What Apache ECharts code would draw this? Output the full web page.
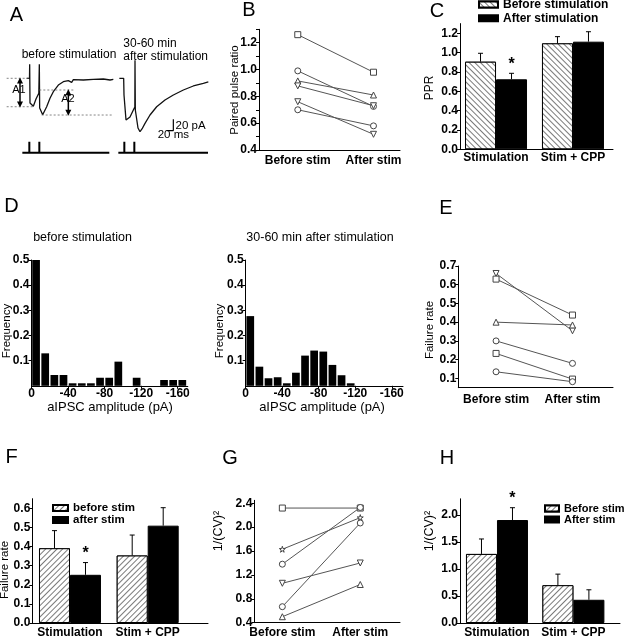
<!DOCTYPE html>
<html><head><meta charset="utf-8">
<script src="https://cdn.jsdelivr.net/npm/echarts@6/dist/echarts.min.js"></script>
<style>html,body{margin:0;padding:0;background:#fff}#c{width:624px;height:639px}</style>
</head><body><div id="c"></div>
<script>
// ---------- DATA ----------
// Panel A: example traces (time ms, current pA)
const traceBeforeT = [80, 88.5, 89, 90, 100, 108, 116.4, 118, 119, 128, 140, 150, 160, 175, 190, 205, 215, 220, 250, 280, 310, 330, 340];
const traceBeforeI = [0, 0, 25, -43.7, -49.6, -36.6, -26.6, 25, -52.6, -64.4, -50.3, -35.4, -23.7, -11.9, -6, -4.2, -7.1, -2.5, -3, -1.8, -1.2, -3, -1.8];
const traceAfterT = [358, 371, 372, 378, 383, 390, 400, 404.5, 405, 406, 414, 420, 426, 435, 450, 470, 495, 520, 550, 580, 610, 625];
const traceAfterI = [0, 0, -29.6, -73.8, -76.8, -68.5, -56.1, -50.8, 32, -56.1, -88, -94.5, -89.7, -79.7, -65, -50.3, -38.4, -29.6, -20.7, -13.6, -8.9, -6.5];
const stimBefore = [88, 118];
const stimAfter = [373, 403];

// Panel B: paired pulse ratio per cell
const categoriesStim = ['Before stim', 'After stim'];
const ppBefore = [1.26, 0.99, 0.915, 0.878, 0.76, 0.70];
const ppAfter  = [0.98, 0.725, 0.81, 0.73, 0.517, 0.58];
const ppSymbols = ['rect', 'circle', 'triangle', 'down', 'down', 'circle'];

// Panel C: PPR means
const groupCats = ['Stimulation', 'Stim + CPP'];
const pprBefore = [0.906, 1.096];
const pprBeforeSem = [0.087, 0.069];
const pprAfter = [0.724, 1.113];
const pprAfterSem = [0.062, 0.103];
const pprSig = [true, false];

// Panel D: amplitude histograms (10 pA bins)
const binCenters = [-5, -15, -25, -35, -45, -55, -65, -75, -85, -95, -105, -115, -125, -135, -145, -155, -165];
const histBefore = [0.5, 0.129, 0.043, 0.043, 0.01, 0.01, 0.01, 0.032, 0.032, 0.096, 0, 0.032, 0, 0, 0.023, 0.023, 0.023];
const histAfter  = [0.277, 0.076, 0.03, 0.034, 0.01, 0.052, 0.12, 0.14, 0.136, 0.083, 0.042, 0.01, 0, 0, 0, 0, 0];

// Panel E: failure rate per cell
const frBefore = [0.66, 0.63, 0.40, 0.30, 0.233, 0.135];
const frAfter  = [0.354, 0.438, 0.385, 0.18, 0.096, 0.082];
const frSymbols = ['down', 'rect', 'triangle', 'circle', 'rect', 'circle'];

// Panel F: failure rate means
const frmBefore = [0.391, 0.353];
const frmBeforeSem = [0.092, 0.107];
const frmAfter = [0.252, 0.509];
const frmAfterSem = [0.064, 0.094];
const frmSig = [true, false];

// Panel G: 1/CV^2 per cell
const cvBefore = [2.32, 1.63, 1.38, 1.06, 0.668, 0.50];
const cvAfter  = [2.32, 2.16, 2.33, 1.40, 2.07, 1.04];
const cvSymbols = ['rect', 'star', 'circle', 'down', 'circle', 'triangle'];

// Panel H: 1/CV^2 means
const cvmBefore = [1.279, 0.70];
const cvmBeforeSem = [0.277, 0.205];
const cvmAfter = [1.907, 0.43];
const cvmAfterSem = [0.228, 0.185];
const cvmSig = [true, false];

// ---------- BUILD ----------
const FAM = '"Liberation Sans", Arial, sans-serif';
const symMap = {
  rect: 'rect', circle: 'circle', triangle: 'triangle',
  down: 'path://M0,0 L10,0 L5,9 Z',
  star: 'path://M50,0 L61,35 L98,35 L68,57 L79,91 L50,70 L21,91 L32,57 L2,35 L39,35 Z'
};
const BW = 31;

const grids = [
  {left: 0, top: 40, width: 210, height: 120},          // A
  {left: 259, top: 29.3, width: 141, height: 120.7},    // B
  {left: 460, top: 23.6, width: 153, height: 125.7},    // C
  {left: 31.5, top: 260, width: 156.3, height: 125.8},  // D left
  {left: 245.7, top: 260, width: 157.3, height: 125.8}, // D right
  {left: 458.3, top: 266, width: 154.7, height: 121.7}, // E
  {left: 32.3, top: 498.7, width: 175.7, height: 124.6},// F
  {left: 254.3, top: 500.3, width: 145.7, height: 122.4},// G
  {left: 460, top: 498.8, width: 160, height: 124.5}   // H
];

const lblStyle = {color: '#000', fontSize: 12, fontWeight: 'bold', fontFamily: FAM};
function yAx(g, min, max, ticks, labels, dec) {
  return {type: 'value', gridIndex: g, min, max,
    axisLine: {show: true, onZero: false, lineStyle: {color: '#000', width: 1}},
    axisTick: {show: true, length: 3, customValues: ticks, lineStyle: {color: '#000'}},
    axisLabel: Object.assign({customValues: labels, margin: 2, formatter: v => v.toFixed(dec)}, lblStyle),
    splitLine: {show: false}};
}
function xCat(g, min, max, cats, margin) {
  return {type: 'value', gridIndex: g, min, max,
    axisLine: {show: true, onZero: false, lineStyle: {color: '#000', width: 1}},
    axisTick: {show: false},
    axisLabel: Object.assign({customValues: [1, 2], margin, formatter: v => cats[Math.round(v) - 1]}, lblStyle),
    splitLine: {show: false}};
}
function xHist(g, min) {
  return {type: 'value', gridIndex: g, min, max: 0, inverse: true,
    axisLine: {show: true, onZero: false, lineStyle: {color: '#000', width: 1}},
    axisTick: {show: true, length: 3, customValues: [0, -40, -80, -120, -160], lineStyle: {color: '#000'}},
    axisLabel: Object.assign({customValues: [0, -40, -80, -120, -160], margin: 2, formatter: v => String(v)}, lblStyle),
    splitLine: {show: false}};
}
const hidden = (g, min, max) => ({type: 'value', gridIndex: g, min, max, show: false});

const xAxis = [
  hidden(0, 0, 630),
  xCat(1, 0.488, 2.35, categoriesStim, 5),
  xCat(2, 0.532, 2.52, groupCats, 2),
  xHist(3, -171),
  xHist(4, -172.3),
  xCat(5, 0.506, 2.53, categoriesStim, 6),
  xCat(6, 0.515, 2.776, groupCats, 4),
  xCat(7, 0.64, 2.51, categoriesStim, 4),
  xCat(8, 0.516, 2.61, groupCats, 4)
];
const yAxis = [
  hidden(0, -144.6, 67.8),
  yAx(1, 0.4, 1.3, [0.4,0.5,0.6,0.7,0.8,0.9,1.0,1.1,1.2,1.3], [0.4,0.6,0.8,1.0,1.2], 1),
  yAx(2, 0, 1.3, [0,0.2,0.4,0.6,0.8,1.0,1.2], [0,0.2,0.4,0.6,0.8,1.0,1.2], 1),
  yAx(3, 0, 0.5, [0.1,0.2,0.3,0.4,0.5], [0.1,0.2,0.3,0.4,0.5], 1),
  yAx(4, 0, 0.5, [0.1,0.2,0.3,0.4,0.5], [0.1,0.2,0.3,0.4,0.5], 1),
  yAx(5, 0.05, 0.7, [0.1,0.2,0.3,0.4,0.5,0.6,0.7], [0.1,0.2,0.3,0.4,0.5,0.6,0.7], 1),
  yAx(6, 0, 0.65, [0,0.1,0.2,0.3,0.4,0.5,0.6], [0,0.1,0.2,0.3,0.4,0.5,0.6], 1),
  yAx(7, 0.4, 2.45, [0.4,0.8,1.2,1.6,2.0,2.4], [0.4,0.8,1.2,1.6,2.0,2.4], 1),
  yAx(8, 0, 2.3, [0,0.5,1.0,1.5,2.0], [0,0.5,1.0,1.5,2.0], 1)
];

const series = [];
// Panel A
const zip = (a, b) => a.map((v, i) => [v, b[i]]);
const plain = {type: 'line', xAxisIndex: 0, yAxisIndex: 0, showSymbol: false, symbol: 'none', silent: true, animation: false};
series.push(Object.assign({}, plain, {data: zip(traceBeforeT, traceBeforeI), lineStyle: {color: '#111', width: 1.3}}));
series.push(Object.assign({}, plain, {data: zip(traceAfterT, traceAfterI), lineStyle: {color: '#111', width: 1.3}}));
function stimLine(times, start, end) {
  const base = -131.7, top = -112.2, d = [[start, base]];
  times.forEach(t => { d.push([t, base], [t, top], [t, base]); });
  d.push([end, base]);
  return d;
}
series.push(Object.assign({}, plain, {data: stimLine(stimBefore, 67, 328), lineStyle: {color: '#000', width: 2}}));
series.push(Object.assign({}, plain, {data: stimLine(stimAfter, 355, 624), lineStyle: {color: '#000', width: 2}}));
// scale bar: 20 ms, 20 pA
series.push(Object.assign({}, plain, {data: [[500, -92.6], [520, -92.6], [520, -72.6]], lineStyle: {color: '#000', width: 1.2}}));
// dashed measurement lines (A1 baseline/peak, A2 start/peak)
const dashLevels = [[20, 90, 0], [20, 100, -50.3], [118, 225, -20.7], [125, 340, -65]];
dashLevels.forEach(d => series.push(Object.assign({}, plain, {data: [[d[0], d[2]], [d[1], d[2]]], lineStyle: {color: '#666', width: 0.8, type: [2, 2]}})));
// double arrows
const arrows = [[60, 0, -50.3], [205, -20.7, -65]];
arrows.forEach(a => series.push({type: 'line', xAxisIndex: 0, yAxisIndex: 0, silent: true, animation: false,
  data: [{value: [a[0], a[1] - 4], symbol: 'triangle', symbolRotate: 0}, {value: [a[0], a[2] + 4], symbol: 'triangle', symbolRotate: 180}],
  symbolSize: [6, 6], itemStyle: {color: '#000'}, lineStyle: {color: '#000', width: 1.5}}));

// line charts
function lineChart(g, before, after, syms) {
  before.forEach((b, i) => series.push({type: 'line', xAxisIndex: g, yAxisIndex: g, silent: true, animation: false,
    data: [[1, b], [2, after[i]]], symbol: symMap[syms[i]], symbolSize: 6, showSymbol: true,
    lineStyle: {color: '#555', width: 1}, itemStyle: {color: '#fff', borderColor: '#444', borderWidth: 1}, z: 3}));
}
lineChart(1, ppBefore, ppAfter, ppSymbols);
lineChart(5, frBefore, frAfter, frSymbols);
lineChart(7, cvBefore, cvAfter, cvSymbols);

// bar charts with error bars
function hatch(rot) {
  return {symbol: 'rect', symbolSize: 1, dashArrayX: [1, 0], dashArrayY: [1, 2.5], rotation: rot, color: '#7a7a7a', backgroundColor: '#fff'};
}
function barPair(g, names, before, bSem, after, aSem, sig, rot) {
  series.push({type: 'bar', name: names[0], xAxisIndex: g, yAxisIndex: g, animation: false, silent: true,
    data: before.map((v, i) => [i + 1, v]), barWidth: BW, barGap: '0%',
    itemStyle: {color: '#fff', borderColor: '#000', borderWidth: 1, decal: hatch(rot)}});
  series.push({type: 'bar', name: names[1], xAxisIndex: g, yAxisIndex: g, animation: false, silent: true,
    data: after.map((v, i) => [i + 1, v]), barWidth: BW, barGap: '0%',
    itemStyle: {color: '#000', borderColor: '#000', borderWidth: 1}});
  const err = (means, sems, sign, sg) => ({type: 'custom', xAxisIndex: g, yAxisIndex: g, z: 5, silent: true, animation: false,
    data: means.map((m, i) => [i + 1, m, m + sems[i], sg && sg[i] ? 1 : 0]),
    renderItem: (p, api) => {
      const top = api.coord([api.value(0), api.value(2)]);
      const base = api.coord([api.value(0), api.value(1)]);
      const cx = top[0] + sign * BW / 2;
      const ch = [
        {type: 'line', shape: {x1: cx, y1: base[1], x2: cx, y2: top[1]}, style: {stroke: '#000', lineWidth: 1}},
        {type: 'line', shape: {x1: cx - 2.5, y1: top[1], x2: cx + 2.5, y2: top[1]}, style: {stroke: '#000', lineWidth: 1}}
      ];
      if (api.value(3)) ch.push({type: 'text', style: {text: '*', x: cx, y: top[1] - 1, align: 'center', verticalAlign: 'bottom', font: 'bold 16px ' + FAM, fill: '#000'}});
      return {type: 'group', children: ch};
    }});
  series.push(err(before, bSem, -1, null));
  series.push(err(after, aSem, 1, sig));
}
barPair(2, ['Before stimulation', 'After stimulation'], pprBefore, pprBeforeSem, pprAfter, pprAfterSem, pprSig, Math.PI / 4);
barPair(6, ['before stim', 'after stim'], frmBefore, frmBeforeSem, frmAfter, frmAfterSem, frmSig, -Math.PI / 4);
barPair(8, ['Before stim', 'After stim'], cvmBefore, cvmBeforeSem, cvmAfter, cvmAfterSem, cvmSig, -Math.PI / 4);

// histograms
[[3, histBefore], [4, histAfter]].forEach(([g, h]) => series.push({type: 'bar', xAxisIndex: g, yAxisIndex: g, silent: true, animation: false,
  data: binCenters.map((c, i) => [c, h[i]]), barWidth: 7.7, itemStyle: {color: '#000'}}));

// legends
function leg(names, left, top, fs, lh, gap, iw) {
  return {data: names, orient: 'vertical', left, top, padding: 0, itemGap: gap, itemWidth: iw, itemHeight: 6,
    icon: 'rect', selectedMode: false, textStyle: {fontSize: fs, lineHeight: lh, color: '#000', fontWeight: 'bold', fontFamily: FAM}};
}
const legend = [
  leg(['Before stimulation', 'After stimulation'], 478, -1.5, 12, 12, 1.7, 19),
  leg(['before stim', 'after stim'], 52, 502, 11.5, 10.5, 0, 15),
  leg(['Before stim', 'After stim'], 544, 503, 11, 10.5, 0, 14)
];

// text
function T(text, x, y, size, opts) {
  opts = opts || {};
  return {type: 'text', x, y, rotation: opts.rot || 0, silent: true,
    style: {text, fill: '#000', font: (opts.weight || 'normal') + ' ' + size + 'px ' + FAM, align: opts.align || 'center', verticalAlign: 'middle'}};
}
const R = Math.PI / 2;
const graphic = [
  T('A', 16.3, 15, 20), T('B', 249, 10, 20), T('C', 437, 11, 20), T('D', 11.5, 206, 20),
  T('E', 446, 208, 20), T('F', 11.7, 457, 20), T('G', 230, 458, 20), T('H', 447, 458, 20),
  T('before stimulation', 69, 55, 12),
  T('30-60 min', 123.3, 43.5, 12, {align: 'left'}),
  T('after stimulation', 123.3, 57, 12, {align: 'left'}),
  T('A1', 19, 90, 11), T('A2', 68, 99, 11),
  T('20 pA', 175.5, 126, 11.5, {align: 'left'}),
  T('20 ms', 173.3, 134.8, 11.5),
  T('Paired pulse ratio', 235, 90, 11.5, {rot: R}),
  T('PPR', 430, 88, 12, {rot: R}),
  T('before stimulation', 82.5, 238, 12.5),
  T('30-60 min after stimulation', 320, 238, 12.5),
  T('Frequency', 7, 331, 11.5, {rot: R}),
  T('Frequency', 220, 331, 11.5, {rot: R}),
  T('aIPSC amplitude (pA)', 110, 407, 13),
  T('aIPSC amplitude (pA)', 322, 407, 13),
  T('Failure rate', 430, 330, 11.5, {rot: R}),
  T('Failure rate', 5, 570, 11.5, {rot: R}),
  T('1/(CV)²', 218.3, 531, 12.5, {rot: R}),
  T('1/(CV)²', 430, 531, 12.5, {rot: R})
];

const chart = echarts.init(document.getElementById('c'), null, {renderer: 'canvas'});
chart.setOption({
  animation: false,
  backgroundColor: '#fff',
  textStyle: {fontFamily: FAM, color: '#000'},
  grid: grids,
  xAxis, yAxis, series, legend, graphic
});
</script></body></html>
